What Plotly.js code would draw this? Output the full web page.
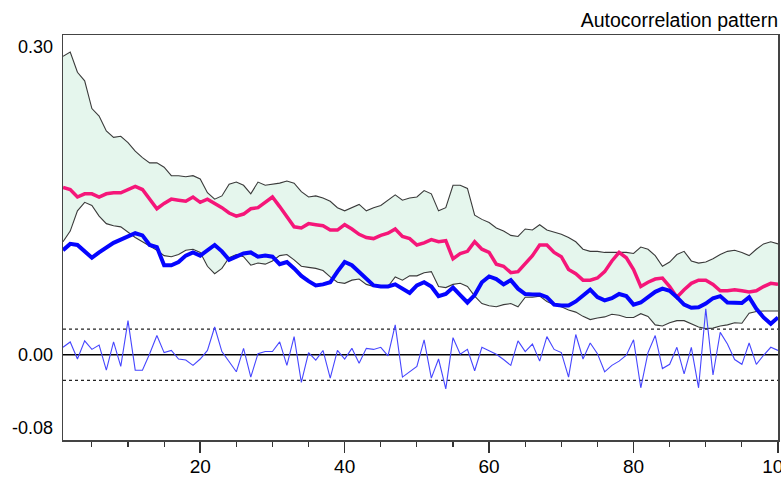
<!DOCTYPE html>
<html>
<head>
<meta charset="utf-8">
<script src="https://cdn.plot.ly/plotly-3.0.1.min.js"></script>
<style>html,body{margin:0;padding:0;background:#fff;}#chart{width:781px;height:477px;}</style>
</head>
<body>
<div id="chart"></div>
<script>
const lags = Array.from({length: 100}, (_, i) => i + 1);

const upperBand = [0.280,0.284,0.265,0.257,0.231,0.224,0.210,0.204,0.205,0.199,
0.191,0.185,0.180,0.180,0.176,0.168,0.168,0.167,0.168,0.165,
0.152,0.146,0.149,0.160,0.162,0.159,0.151,0.162,0.159,0.160,
0.161,0.163,0.161,0.153,0.148,0.149,0.147,0.144,0.138,0.135,
0.138,0.141,0.135,0.138,0.140,0.145,0.150,0.145,0.147,0.148,
0.154,0.151,0.135,0.138,0.159,0.159,0.156,0.131,0.127,0.124,
0.119,0.116,0.112,0.111,0.118,0.117,0.122,0.117,0.115,0.113,
0.110,0.106,0.099,0.097,0.097,0.096,0.096,0.096,0.096,0.095,
0.101,0.099,0.093,0.083,0.087,0.094,0.097,0.088,0.086,0.087,
0.090,0.094,0.097,0.098,0.096,0.093,0.099,0.104,0.106,0.104];

const lowerBand = [0.106,0.116,0.135,0.143,0.140,0.130,0.123,0.121,0.120,0.115,
0.110,0.106,0.102,0.098,0.093,0.092,0.094,0.098,0.099,0.096,
0.083,0.076,0.081,0.091,0.094,0.092,0.084,0.086,0.085,0.088,
0.093,0.094,0.089,0.083,0.082,0.081,0.079,0.073,0.068,0.067,
0.070,0.071,0.066,0.064,0.064,0.064,0.073,0.070,0.074,0.074,
0.077,0.078,0.064,0.063,0.066,0.067,0.064,0.055,0.048,0.046,
0.045,0.047,0.048,0.045,0.054,0.054,0.055,0.050,0.047,0.045,
0.042,0.040,0.036,0.033,0.0345,0.0355,0.038,0.037,0.035,0.035,
0.0385,0.036,0.028,0.027,0.030,0.032,0.032,0.029,0.026,0.0245,
0.025,0.027,0.028,0.030,0.0295,0.039,0.0405,0.041,0.041,0.041];

const pinkSeries = [0.157,0.155,0.148,0.151,0.151,0.148,0.151,0.152,0.152,0.155,
0.158,0.155,0.146,0.137,0.142,0.146,0.145,0.144,0.148,0.143,
0.146,0.142,0.138,0.133,0.130,0.132,0.137,0.138,0.143,0.148,
0.139,0.129,0.120,0.119,0.123,0.122,0.121,0.117,0.117,0.122,
0.118,0.113,0.110,0.109,0.112,0.114,0.118,0.111,0.109,0.103,
0.105,0.108,0.106,0.107,0.090,0.095,0.097,0.106,0.099,0.096,
0.085,0.083,0.077,0.078,0.085,0.093,0.103,0.103,0.096,0.092,
0.080,0.076,0.070,0.070,0.072,0.078,0.088,0.096,0.091,0.080,
0.064,0.068,0.071,0.072,0.064,0.054,0.061,0.067,0.070,0.070,
0.066,0.060,0.060,0.061,0.060,0.059,0.060,0.064,0.067,0.066];

const blueSeries = [0.098,0.104,0.103,0.097,0.091,0.096,0.101,0.105,0.108,0.111,
0.114,0.112,0.103,0.101,0.084,0.084,0.087,0.093,0.096,0.093,
0.098,0.103,0.097,0.089,0.092,0.095,0.096,0.092,0.093,0.092,
0.085,0.087,0.081,0.074,0.069,0.065,0.066,0.068,0.078,0.087,
0.084,0.078,0.072,0.065,0.064,0.064,0.066,0.062,0.058,0.065,
0.068,0.064,0.055,0.057,0.063,0.056,0.049,0.056,0.068,0.0735,
0.071,0.066,0.070,0.062,0.057,0.0566,0.0566,0.054,0.047,0.0463,
0.0463,0.050,0.055,0.061,0.054,0.051,0.053,0.057,0.055,0.047,
0.049,0.054,0.059,0.062,0.060,0.054,0.047,0.044,0.0445,0.048,
0.053,0.055,0.049,0.0487,0.0485,0.054,0.043,0.035,0.029,0.035];

const residualSeries = [0.007,0.012,-0.004,0.013,0.005,0.009,-0.0145,0.012,-0.011,0.032,
-0.0145,-0.0145,0.001,0.018,0.002,0.004,-0.004,-0.005,-0.010,-0.004,
0.004,0.026,0.003,-0.007,-0.016,0.006,-0.021,0.001,0.003,0.003,
0.012,-0.010,0.017,-0.026,0.002,-0.005,0.004,-0.022,0.004,-0.004,
0.006,-0.008,0.006,0.005,0.007,-0.001,0.028,-0.021,-0.016,-0.011,
0.014,-0.022,-0.004,-0.032,0.016,0.0005,0.005,-0.015,0.007,0.004,
0.0005,-0.0045,-0.010,0.013,0.003,0.010,-0.006,0.017,0.005,0.002,
-0.021,0.019,-0.004,0.011,0.001,-0.016,-0.010,-0.006,-0.0005,0.014,
-0.031,0.002,0.018,-0.013,-0.009,0.007,-0.018,0.007,-0.031,0.043,
-0.019,0.021,0.010,-0.0045,-0.009,0.011,-0.009,-0.0005,0.007,0.004];

const confLimit = 0.024;
const xTicks = [20, 40, 60, 80, 100];
const yLabelVals = [0.30, 0.00, -0.08];
const yLabelText = ['0.30', '0.00', '-0.08'];
const titleText = 'Autocorrelation pattern';

const FONT = "'Liberation Sans Narrow', 'Arial Narrow', 'Liberation Sans', Arial, sans-serif";

const traces = [
  {x: lags, y: lowerBand, type: 'scatter', mode: 'lines', line: {color: '#3a3a3a', width: 1.1}, hoverinfo: 'skip'},
  {x: lags, y: upperBand, type: 'scatter', mode: 'lines', fill: 'tonexty', fillcolor: '#e5f6ed', line: {color: '#3a3a3a', width: 1.1}, hoverinfo: 'skip'},
  {x: lags, y: residualSeries, type: 'scatter', mode: 'lines', line: {color: '#4646ff', width: 1.1}},
  {x: lags, y: pinkSeries, type: 'scatter', mode: 'lines', line: {color: '#f51679', width: 3.5}},
  {x: lags, y: blueSeries, type: 'scatter', mode: 'lines', line: {color: '#0505ff', width: 4}}
];

const shapes = [
  {type: 'line', xref: 'paper', x0: 0, x1: 1, yref: 'y', y0: 0, y1: 0, line: {color: '#000', width: 1.5}, layer: 'below'},
  {type: 'line', xref: 'paper', x0: 0, x1: 1, yref: 'y', y0: confLimit, y1: confLimit, line: {color: '#222', width: 1.3, dash: '3px,3px'}, layer: 'below'},
  {type: 'line', xref: 'paper', x0: 0, x1: 1, yref: 'y', y0: -confLimit, y1: -confLimit, line: {color: '#222', width: 1.3, dash: '3px,3px'}, layer: 'below'}
];

const anchors = ['top', 'middle', 'bottom'];
const annotations = yLabelVals.map((v, i) => ({
  xref: 'paper', x: 0, xanchor: 'right', xshift: -8,
  yref: 'y', y: v, yanchor: anchors[i],
  text: yLabelText[i], showarrow: false,
  font: {family: FONT, size: 18, color: '#000'}
}));

const layout = {
  width: 781, height: 477,
  margin: {l: 63, r: 3, t: 35, b: 37, pad: 0},
  paper_bgcolor: '#fff', plot_bgcolor: '#fff',
  showlegend: false,
  title: {text: titleText, x: 1, xref: 'paper', xanchor: 'right', y: 0.958, yref: 'container', yanchor: 'middle',
          font: {family: FONT, size: 19.5, color: '#000'}},
  xaxis: {
    range: [1, 100], tickvals: xTicks, ticktext: xTicks.map(String),
    ticks: 'outside', ticklen: 11, tickwidth: 1.5, tickcolor: '#333',
    minor: {tickmode: 'linear', tick0: 0, dtick: 5, ticks: 'outside', ticklen: 5, tickwidth: 1.2, tickcolor: '#333', showgrid: false},
    showline: true, mirror: true, linecolor: '#444', linewidth: 1.5,
    showgrid: false, zeroline: false,
    ticklabeloverflow: 'allow', ticklabelstandoff: -2,
    tickfont: {family: FONT, size: 19, color: '#000'}
  },
  yaxis: {
    range: [-0.08, 0.30], showticklabels: false, ticks: '',
    showline: true, mirror: true, linecolor: '#444', linewidth: 1.5,
    showgrid: false, zeroline: false
  },
  shapes: shapes,
  annotations: annotations
};

Plotly.newPlot('chart', traces, layout, {staticPlot: true, displayModeBar: false});
</script>
</body>
</html>
